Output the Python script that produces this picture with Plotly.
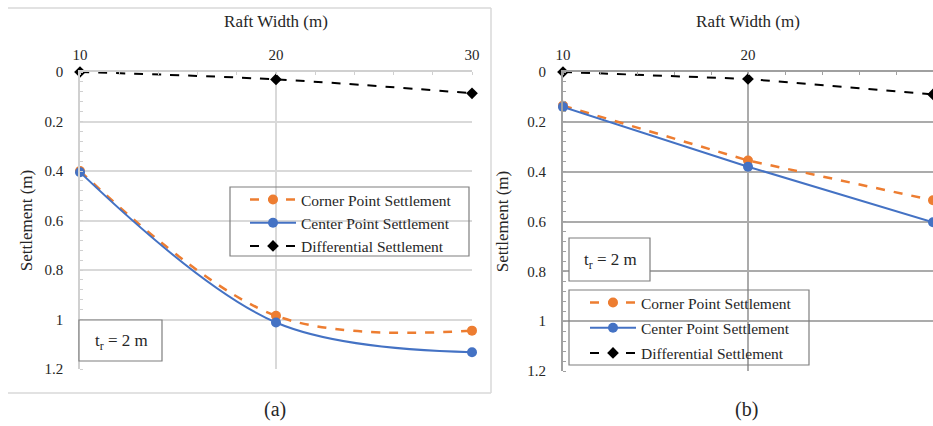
import plotly.graph_objects as go

# ---- data ----
widths = [10, 20, 30]
corner_a = [0.400, 0.985, 1.045]
center_a = [0.405, 1.012, 1.132]
diff_a = [0.000, 0.030, 0.086]
corner_b = [0.135, 0.355, 0.515]
center_b = [0.140, 0.380, 0.603]
diff_b = [0.000, 0.028, 0.090]
series_names = ["Corner Point Settlement", "Center Point Settlement", "Differential Settlement"]
x_ticks = [10, 20, 30]
y_ticks = [0, 0.2, 0.4, 0.6, 0.8, 1, 1.2]
panel_labels = ["(a)", "(b)"]
note_text = "t<sub>r</sub> = 2 m"

W, H = 933, 426
FONT = "Liberation Serif, Times New Roman, serif"
TXT = "#262626"
ORANGE = "#ED7D31"
BLUE = "#4472C4"
BLACK = "#000000"


def px(x):
    return x / W


def py(y):
    return 1 - y / H


fig = go.Figure()


def add_panel(xa, ya, corner, center, diff, shape, legend):
    common = dict(x=widths, xaxis=xa, yaxis=ya, mode="lines+markers", cliponaxis=False,
                  legend=legend)
    fig.add_trace(go.Scatter(y=corner, name=series_names[0], legendgroup=legend + "c",
                             line=dict(color=ORANGE, width=2.5, dash="dash", shape=shape, smoothing=1),
                             marker=dict(symbol="circle", size=10, color=ORANGE), **common))
    fig.add_trace(go.Scatter(y=center, name=series_names[1], legendgroup=legend + "m",
                             line=dict(color=BLUE, width=2, shape=shape, smoothing=1),
                             marker=dict(symbol="circle", size=10, color=BLUE), **common))
    fig.add_trace(go.Scatter(y=diff, name=series_names[2], legendgroup=legend + "d",
                             line=dict(color=BLACK, width=2, dash="dash", shape=shape, smoothing=1),
                             marker=dict(symbol="diamond", size=9, color=BLACK), **common))


add_panel("x", "y", corner_a, center_a, diff_a, "spline", "legend")
add_panel("x2", "y2", corner_b, center_b, diff_b, "linear", "legend2")


def xaxis_cfg(domain, anchor, gridcolor, gw, linecolor):
    return dict(domain=domain, anchor=anchor, side="top", range=[10, 30], automargin=False,
                tickvals=x_ticks, showgrid=True, gridcolor=gridcolor, gridwidth=gw,
                showline=True, linecolor=linecolor, linewidth=gw, zeroline=False,
                ticks="", ticklabelstandoff=4,
                tickfont=dict(family=FONT, size=15, color=TXT),
                minor=dict(dtick=2, ticks="inside", ticklen=3, tickcolor=linecolor, showgrid=False),
                title=dict(text="Raft Width (m)", standoff=15,
                           font=dict(family=FONT, size=17, color=TXT)))


def yaxis_cfg(domain, anchor, gridcolor, gw, linecolor, standoff):
    return dict(domain=domain, anchor=anchor, range=[1.2, 0], tickvals=y_ticks, automargin=False,
                showgrid=True, gridcolor=gridcolor, gridwidth=gw,
                showline=True, linecolor=linecolor, linewidth=gw, zeroline=False,
                ticks="", ticklabelstandoff=12,
                tickfont=dict(family=FONT, size=15, color=TXT),
                minor=dict(dtick=0.04, ticks="inside", ticklen=3, tickcolor=linecolor, showgrid=False),
                title=dict(text="Settlement (m)", standoff=standoff,
                           font=dict(family=FONT, size=17, color=TXT)))


fig.update_layout(
    width=W, height=H, margin=dict(l=0, r=0, t=0, b=0, autoexpand=False),
    paper_bgcolor="white", plot_bgcolor="white",
    font=dict(family=FONT, color=TXT),
    xaxis=xaxis_cfg([px(80), px(472)], "y", "#d9d9d9", 1.5, "#d0d0d0"),
    yaxis=yaxis_cfg([py(369), py(72)], "x", "#d9d9d9", 1.5, "#d0d0d0", 8),
    xaxis2=xaxis_cfg([px(563), 1.0], "y2", "#ababab", 2, "#a0a0a0"),
    yaxis2=yaxis_cfg([py(371), py(72)], "x2", "#ababab", 2, "#a0a0a0", 14),
    legend=dict(x=px(245), y=py(183), xanchor="left", yanchor="top",
                bgcolor="rgba(0,0,0,0)", borderwidth=0, traceorder="grouped",
                tracegroupgap=0, font=dict(family=FONT, size=15.5, color=TXT),
                itemwidth=46),
    legend2=dict(x=px(585), y=py(286), xanchor="left", yanchor="top",
                 bgcolor="rgba(0,0,0,0)", borderwidth=0, traceorder="grouped",
                 tracegroupgap=2, font=dict(family=FONT, size=15.5, color=TXT),
                 itemwidth=46),
    showlegend=True,
)

shapes = [
    # outer frame of panel (a)
    dict(type="line", xref="paper", yref="paper", x0=px(8), x1=px(491), y0=py(8), y1=py(8),
         line=dict(color="#d9d9d9", width=1.5)),
    dict(type="line", xref="paper", yref="paper", x0=px(8), x1=px(491), y0=py(393), y1=py(393),
         line=dict(color="#d9d9d9", width=1.5)),
    dict(type="line", xref="paper", yref="paper", x0=px(491), x1=px(491), y0=py(8), y1=py(393),
         line=dict(color="#d9d9d9", width=1.5)),
    # legend frames
    dict(type="rect", xref="paper", yref="paper", x0=px(230), x1=px(469), y0=py(187), y1=py(256),
         line=dict(color="#7f7f7f", width=1.2)),
    dict(type="rect", xref="paper", yref="paper", x0=px(569), x1=px(809), y0=py(290), y1=py(365),
         line=dict(color="#7f7f7f", width=1.2)),
    # note frames
    dict(type="rect", xref="paper", yref="paper", x0=px(79), x1=px(162), y0=py(320), y1=py(361),
         line=dict(color="#7f7f7f", width=1.2), fillcolor="white", layer="above"),
    dict(type="rect", xref="paper", yref="paper", x0=px(569), x1=px(650), y0=py(238), y1=py(281),
         line=dict(color="#7f7f7f", width=1.2), fillcolor="white", layer="above"),
]
fig.update_layout(shapes=shapes)

annotations = [
    dict(text=note_text, xref="paper", yref="paper", x=px(121), y=py(342), showarrow=False,
         xanchor="center", yanchor="middle", font=dict(family=FONT, size=17, color=TXT)),
    dict(text=note_text, xref="paper", yref="paper", x=px(610), y=py(261), showarrow=False,
         xanchor="center", yanchor="middle", font=dict(family=FONT, size=17, color=TXT)),
    dict(text=panel_labels[0], xref="paper", yref="paper", x=px(275), y=py(409), showarrow=False,
         xanchor="center", yanchor="middle", font=dict(family=FONT, size=20, color=TXT)),
    dict(text=panel_labels[1], xref="paper", yref="paper", x=px(746), y=py(409), showarrow=False,
         xanchor="center", yanchor="middle", font=dict(family=FONT, size=20, color=TXT)),
]
fig.update_layout(annotations=annotations)

fig.write_html("out.html")
